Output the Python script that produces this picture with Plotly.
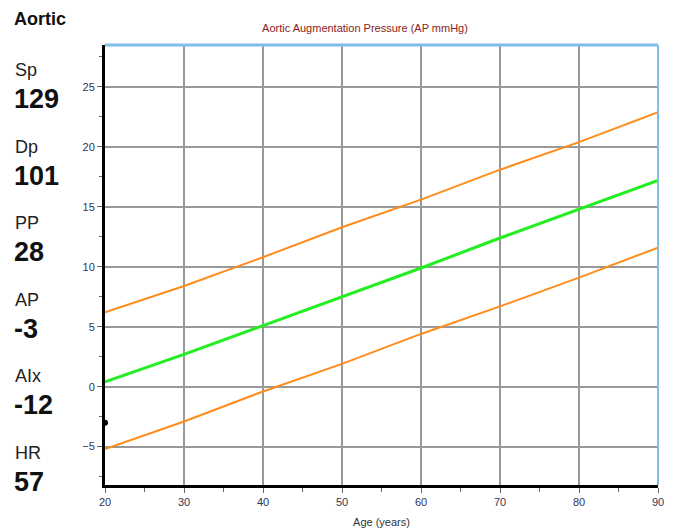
import plotly.graph_objects as go

ages = [20, 30, 40, 50, 60, 70, 80, 90]
upper = [6.2, 8.4, 10.8, 13.3, 15.6, 18.1, 20.4, 22.9]
median = [0.4, 2.7, 5.1, 7.5, 9.9, 12.4, 14.8, 17.2]
lower = [-5.2, -2.9, -0.4, 1.9, 4.4, 6.7, 9.1, 11.6]
patient_age = [20]
patient_ap = [-3]

side_labels = ["Sp", "Dp", "PP", "AP", "AIx", "HR"]
side_values = ["129", "101", "28", "-3", "-12", "57"]

OFF = 8  # page body margin
W, H = 675 - OFF, 532 - OFF
L, R, T, B = 105 - OFF, 17, 45 - OFF, 47
pw, ph = W - L - R, H - T - B

def px_x(x):
    return (x - OFF - L) / pw

def px_y(y):
    return (H - B - (y - OFF)) / ph

fig = go.Figure()
fig.add_trace(go.Scatter(x=ages, y=upper, mode="lines", line=dict(color="#ff8c1a", width=2), hoverinfo="skip"))
fig.add_trace(go.Scatter(x=ages, y=lower, mode="lines", line=dict(color="#ff8c1a", width=2), hoverinfo="skip"))
fig.add_trace(go.Scatter(x=ages, y=median, mode="lines", line=dict(color="#22ee22", width=3), hoverinfo="skip"))
fig.add_trace(go.Scatter(x=patient_age, y=patient_ap, mode="markers", marker=dict(color="black", size=6),
                         cliponaxis=False, hoverinfo="skip"))

fig.update_layout(
    width=W, height=H,
    margin=dict(l=L, r=R, t=T, b=B),
    paper_bgcolor="white", plot_bgcolor="white",
    showlegend=False,
    font=dict(family="Liberation Sans, Arial, sans-serif", color="#333333"),
    title=dict(text="Aortic Augmentation Pressure (AP mmHg)", x=px_x(365), xref="paper", xanchor="center",
               y=1 - (28 - OFF) / H, yanchor="middle", font=dict(size=11, color="#8b1a1a")),
)
fig.update_xaxes(
    range=[20, 90], tickvals=ages, showgrid=True, gridcolor="#999999", gridwidth=2,
    showline=True, linecolor="black", linewidth=3, ticks="outside", ticklen=5, tickcolor="#666",
    tickfont=dict(size=11, color="#333355"), zeroline=False, automargin=False,
    minor=dict(tickvals=[25, 35, 45, 55, 65, 75, 85], ticks="outside", ticklen=4, tickcolor="#666", showgrid=False),
    title=dict(text="Age (years)", font=dict(size=11, color="#333333"), standoff=12),
)
fig.update_yaxes(
    range=[-8.2, 28.5], tickvals=[-5, 0, 5, 10, 15, 20, 25], showgrid=True, gridcolor="#999999", gridwidth=2,
    showline=True, linecolor="black", linewidth=3, ticks="outside", ticklen=5, tickcolor="#666",
    tickfont=dict(size=11, color="#333355"), zeroline=False, automargin=False,
    minor=dict(tickvals=[-7.5, -2.5, 2.5, 7.5, 12.5, 17.5, 22.5, 27.5], ticks="outside", ticklen=3,
               tickcolor="#666", showgrid=False),
)

# light blue top and right borders
fig.add_shape(type="line", xref="paper", yref="paper", x0=0, x1=1, y0=1, y1=1,
              line=dict(color="#7ec0e8", width=3))
fig.add_shape(type="line", xref="paper", yref="paper", x0=1, x1=1, y0=0, y1=1,
              line=dict(color="#7ec0e8", width=2))

fig.add_annotation(text="<b>Aortic</b>", xref="paper", yref="paper", x=px_x(12), y=px_y(19),
                   xanchor="left", yanchor="middle", showarrow=False,
                   font=dict(size=18, color="#111111"))
for i, (lab, val) in enumerate(zip(side_labels, side_values)):
    y0 = 70 + i * 76.6
    fig.add_annotation(text=lab, xref="paper", yref="paper", x=px_x(13), y=px_y(y0),
                       xanchor="left", yanchor="middle", showarrow=False,
                       font=dict(size=18, color="#222222"))
    fig.add_annotation(text="<b>" + val + "</b>", xref="paper", yref="paper", x=px_x(12), y=px_y(y0 + 29),
                       xanchor="left", yanchor="middle", showarrow=False,
                       font=dict(size=27, color="#111111"))

fig.write_html("out.html")
